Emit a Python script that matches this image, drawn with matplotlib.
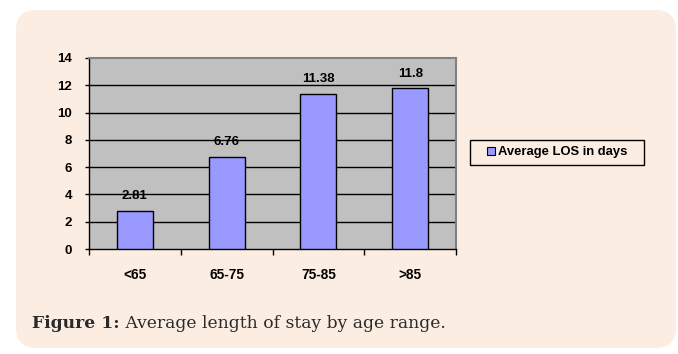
import matplotlib
matplotlib.use("Agg")
import matplotlib.pyplot as plt
from matplotlib.patches import FancyBboxPatch, Patch, Rectangle
import numpy as np

categories = ["<65", "65-75", "75-85", ">85"]
values = [2.81, 6.76, 11.38, 11.8]
value_labels = ["2.81", "6.76", "11.38", "11.8"]
yticks = [0, 2, 4, 6, 8, 10, 12, 14]
series_name = "Average LOS in days"
caption_bold = "Figure 1:"
caption_rest = " Average length of stay by age range."

W, H = 678, 354
fig = plt.figure(figsize=(W / 100, H / 100), dpi=100)
fig.patch.set_facecolor("white")

panel = FancyBboxPatch((16 / W, 6 / H), (676 - 16) / W, (346 - 8) / H,
                       boxstyle="round,pad=0,rounding_size=0.03",
                       transform=fig.transFigure, facecolor="#FCEDE2",
                       edgecolor="none", zorder=-10, mutation_aspect=W / H)
fig.patches.append(panel)

ax = fig.add_axes([89 / W, 1 - 249 / H, (456 - 89) / W, (249 - 58) / H])
ax.set_zorder(1)
ax.set_facecolor("#C0C0C0")
x = np.arange(len(categories))
bars = ax.bar(x, values, width=0.39, color="#9999FF", edgecolor="black",
              linewidth=1.0, zorder=3)
ax.set_xlim(-0.5, len(categories) - 0.5)
ax.set_ylim(0, 14)
ax.set_yticks(yticks)
ax.set_yticklabels([str(t) for t in yticks], fontsize=9.5, fontweight="bold",
                   family="Liberation Sans")
for t in yticks[1:-1]:
    ax.axhline(t, color="black", linewidth=1.0, zorder=1)

ax.set_xticks(x)
ax.set_xticklabels(categories, fontsize=9.8, fontweight="bold",
                   family="Liberation Sans")
ax.tick_params(axis="x", length=0, pad=14)
ax.set_xticks(np.arange(len(categories) + 1) - 0.5, minor=True)
ax.tick_params(axis="x", which="minor", length=4.5, direction="out", width=1)
ax.tick_params(axis="y", length=3, direction="out", width=1, pad=9.4)

for s in ["top", "right"]:
    ax.spines[s].set_color("#808080")
    ax.spines[s].set_linewidth(1.5)
for s in ["left", "bottom"]:
    ax.spines[s].set_color("black")
    ax.spines[s].set_linewidth(1.0)

for xi, v, lab in zip(x, values, value_labels):
    ax.annotate(lab, (xi, v), xytext=(0, 6), textcoords="offset points",
                ha="center", va="bottom", fontsize=9.5, fontweight="bold",
                family="Liberation Sans", zorder=4)

# legend box
lx0, lx1, ly0, ly1 = 470, 644, 140, 165
fig.patches.append(Rectangle((lx0 / W, 1 - ly1 / H), (lx1 - lx0) / W,
                             (ly1 - ly0) / H, transform=fig.transFigure,
                             facecolor="none", edgecolor="black",
                             linewidth=1.0, zorder=2))
handle = Patch(facecolor="#9999FF", edgecolor="black", linewidth=0.8)
leg = fig.legend([handle], [series_name], loc="center",
                 bbox_to_anchor=((lx0 + lx1) / 2 / W, 1 - (ly0 + ly1) / 2 / H),
                 prop={"family": "Liberation Sans", "weight": "bold", "size": 9.4},
                 frameon=False, handlelength=0.6,
                 handleheight=0.6, handletextpad=0.2, borderpad=0.0,
                 borderaxespad=0)

t1 = fig.text(32 / W, 1 - 323 / H, caption_bold, fontsize=12.3,
              fontweight="bold", family="DejaVu Serif", va="center",
              color="#2a2a2a")
fig.canvas.draw()
bb = t1.get_window_extent()
fig.text(bb.x1 / W, 1 - 323 / H, caption_rest, fontsize=12.3,
         family="DejaVu Serif", va="center", color="#2a2a2a")

fig.savefig("out.png", dpi=100)
